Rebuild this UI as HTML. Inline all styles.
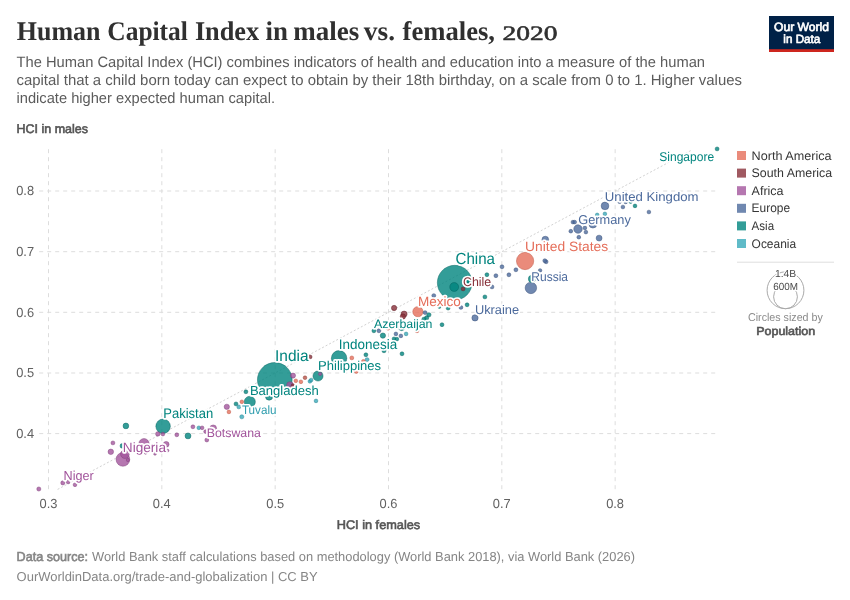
<!DOCTYPE html>
<html><head><meta charset="utf-8"><title>Human Capital Index in males vs. females, 2020</title>
<style>
html,body{margin:0;padding:0;background:#fff;}
body{width:850px;height:600px;overflow:hidden;font-family:"Liberation Sans",sans-serif;}
svg{display:block;will-change:transform;text-rendering:geometricPrecision;font-family:"Liberation Sans",sans-serif;}
.serif{font-family:"Liberation Serif",serif;}
.grid{stroke:#dddddd;stroke-width:1;stroke-dasharray:4 4;fill:none;}
.tick{font-size:13.2px;fill:#616161;}
.lbl{paint-order:stroke;stroke:#ffffff;stroke-width:3.4px;stroke-linejoin:round;}
</style></head><body>
<svg width="850" height="600" viewBox="0 0 850 600">
<rect x="0" y="0" width="850" height="600" fill="#ffffff"/>

<text class="serif" x="16.8" y="40.1" font-size="27" font-weight="bold" fill="#303030" textLength="83.6" lengthAdjust="spacingAndGlyphs">Human</text>
<text class="serif" x="107.3" y="40.1" font-size="27" font-weight="bold" fill="#303030" textLength="80.6" lengthAdjust="spacingAndGlyphs">Capital</text>
<text class="serif" x="194.9" y="40.1" font-size="27" font-weight="bold" fill="#303030" textLength="64.3" lengthAdjust="spacingAndGlyphs">Index</text>
<text class="serif" x="265.5" y="40.1" font-size="27" font-weight="bold" fill="#303030" textLength="22.4" lengthAdjust="spacingAndGlyphs">in</text>
<text class="serif" x="293.2" y="40.1" font-size="27" font-weight="bold" fill="#303030" textLength="66.0" lengthAdjust="spacingAndGlyphs">males</text>
<text class="serif" x="363.8" y="40.1" font-size="27" font-weight="bold" fill="#303030" textLength="31.2" lengthAdjust="spacingAndGlyphs">vs.</text>
<text class="serif" x="402.6" y="40.1" font-size="27" font-weight="bold" fill="#303030" textLength="92.4" lengthAdjust="spacingAndGlyphs">females,</text>
<text class="serif" x="502.6" y="40.2" font-size="20.5" fill="#303030" stroke="#303030" stroke-width="0.55" textLength="55.0" lengthAdjust="spacingAndGlyphs">2020</text>
<text x="16.5" y="66.5" font-size="15" fill="#5b5b5b" textLength="688.5" lengthAdjust="spacingAndGlyphs">The Human Capital Index (HCI) combines indicators of health and education into a measure of the human</text>
<text x="16.5" y="84.5" font-size="15" fill="#5b5b5b" textLength="725.5" lengthAdjust="spacingAndGlyphs">capital that a child born today can expect to obtain by their 18th birthday, on a scale from 0 to 1. Higher values</text>
<text x="16.5" y="102.5" font-size="15" fill="#5b5b5b" textLength="258.5" lengthAdjust="spacingAndGlyphs">indicate higher expected human capital.</text>
<rect x="769" y="16" width="65" height="36" fill="#002147"/><rect x="769" y="49.2" width="65" height="2.8" fill="#ce261e"/>
<text x="801.5" y="30.7" font-size="12" fill="#ffffff" stroke="#ffffff" stroke-width="0.65" text-anchor="middle" textLength="55" lengthAdjust="spacingAndGlyphs">Our World</text>
<text x="801.8" y="42.7" font-size="12" fill="#ffffff" stroke="#ffffff" stroke-width="0.65" text-anchor="middle" textLength="37" lengthAdjust="spacingAndGlyphs">in Data</text>
<text x="16.5" y="132.8" font-size="12.5" fill="#555555" stroke="#555555" stroke-width="0.6" textLength="71.5" lengthAdjust="spacingAndGlyphs">HCI in males</text>
<text x="336.7" y="528.5" font-size="12.5" fill="#555555" stroke="#555555" stroke-width="0.6" textLength="83.5" lengthAdjust="spacingAndGlyphs">HCI in females</text>
<line class="grid" x1="48.50" y1="149.2" x2="48.50" y2="489.5"/>
<text class="tick" x="48.5" y="507.5" text-anchor="middle" textLength="17.9" lengthAdjust="spacingAndGlyphs">0.3</text>
<line class="grid" x1="161.83" y1="149.2" x2="161.83" y2="489.5"/>
<text class="tick" x="161.8" y="507.5" text-anchor="middle" textLength="17.9" lengthAdjust="spacingAndGlyphs">0.4</text>
<line class="grid" x1="275.16" y1="149.2" x2="275.16" y2="489.5"/>
<text class="tick" x="275.2" y="507.5" text-anchor="middle" textLength="17.9" lengthAdjust="spacingAndGlyphs">0.5</text>
<line class="grid" x1="388.49" y1="149.2" x2="388.49" y2="489.5"/>
<text class="tick" x="388.5" y="507.5" text-anchor="middle" textLength="17.9" lengthAdjust="spacingAndGlyphs">0.6</text>
<line class="grid" x1="501.82" y1="149.2" x2="501.82" y2="489.5"/>
<text class="tick" x="501.8" y="507.5" text-anchor="middle" textLength="17.9" lengthAdjust="spacingAndGlyphs">0.7</text>
<line class="grid" x1="615.15" y1="149.2" x2="615.15" y2="489.5"/>
<text class="tick" x="615.1" y="507.5" text-anchor="middle" textLength="17.9" lengthAdjust="spacingAndGlyphs">0.8</text>
<line class="grid" x1="39.2" y1="433.6" x2="717" y2="433.6"/>
<text class="tick" x="16.2" y="437.8" textLength="17.9" lengthAdjust="spacingAndGlyphs">0.4</text>
<line class="grid" x1="39.2" y1="373.0" x2="717" y2="373.0"/>
<text class="tick" x="16.2" y="377.2" textLength="17.9" lengthAdjust="spacingAndGlyphs">0.5</text>
<line class="grid" x1="39.2" y1="312.3" x2="717" y2="312.3"/>
<text class="tick" x="16.2" y="316.5" textLength="17.9" lengthAdjust="spacingAndGlyphs">0.6</text>
<line class="grid" x1="39.2" y1="251.7" x2="717" y2="251.7"/>
<text class="tick" x="16.2" y="255.9" textLength="17.9" lengthAdjust="spacingAndGlyphs">0.7</text>
<line class="grid" x1="39.2" y1="191.0" x2="717" y2="191.0"/>
<text class="tick" x="16.2" y="195.2" textLength="17.9" lengthAdjust="spacingAndGlyphs">0.8</text>
<line x1="57.6" y1="489.4" x2="692.2" y2="149.8" stroke="#d2d2d2" stroke-width="1" stroke-dasharray="2 2"/>
<circle cx="274.8" cy="379.9" r="17.35" fill="#00847E" fill-opacity="0.8" stroke="#00605c" stroke-opacity="0.75" stroke-width="0.6"/>
<circle cx="454.7" cy="282.7" r="17.35" fill="#00847E" fill-opacity="0.8" stroke="#00605c" stroke-opacity="0.75" stroke-width="0.6"/>
<circle cx="525.1" cy="261.0" r="8.65" fill="#E56E5A" fill-opacity="0.8" stroke="#b9503f" stroke-opacity="0.75" stroke-width="0.6"/>
<circle cx="339.1" cy="358.3" r="7.75" fill="#00847E" fill-opacity="0.8" stroke="#00605c" stroke-opacity="0.75" stroke-width="0.6"/>
<circle cx="163.1" cy="426.3" r="7.25" fill="#00847E" fill-opacity="0.8" stroke="#00605c" stroke-opacity="0.75" stroke-width="0.6"/>
<circle cx="122.9" cy="459.4" r="6.85" fill="#A2559C" fill-opacity="0.8" stroke="#7d3f78" stroke-opacity="0.75" stroke-width="0.6"/>
<circle cx="530.9" cy="287.9" r="5.75" fill="#4C6A9C" fill-opacity="0.8" stroke="#364d75" stroke-opacity="0.75" stroke-width="0.6"/>
<circle cx="249.8" cy="401.8" r="5.55" fill="#00847E" fill-opacity="0.8" stroke="#00605c" stroke-opacity="0.75" stroke-width="0.6"/>
<circle cx="417.9" cy="311.7" r="5.15" fill="#E56E5A" fill-opacity="0.8" stroke="#b9503f" stroke-opacity="0.75" stroke-width="0.6"/>
<circle cx="144.0" cy="443.7" r="5.15" fill="#A2559C" fill-opacity="0.8" stroke="#7d3f78" stroke-opacity="0.75" stroke-width="0.6"/>
<circle cx="318.0" cy="376.0" r="5.05" fill="#00847E" fill-opacity="0.8" stroke="#00605c" stroke-opacity="0.75" stroke-width="0.6"/>
<circle cx="454.2" cy="287.0" r="4.45" fill="#00847E" fill-opacity="0.8" stroke="#00605c" stroke-opacity="0.75" stroke-width="0.6"/>
<circle cx="124.9" cy="454.1" r="4.35" fill="#A2559C" fill-opacity="0.8" stroke="#7d3f78" stroke-opacity="0.75" stroke-width="0.6"/>
<circle cx="578.0" cy="229.0" r="4.25" fill="#4C6A9C" fill-opacity="0.8" stroke="#364d75" stroke-opacity="0.75" stroke-width="0.6"/>
<circle cx="592.9" cy="224.1" r="3.95" fill="#4C6A9C" fill-opacity="0.8" stroke="#364d75" stroke-opacity="0.75" stroke-width="0.6"/>
<circle cx="605.0" cy="205.9" r="3.85" fill="#4C6A9C" fill-opacity="0.8" stroke="#364d75" stroke-opacity="0.75" stroke-width="0.6"/>
<circle cx="269.1" cy="396.5" r="3.65" fill="#00847E" fill-opacity="0.8" stroke="#00605c" stroke-opacity="0.75" stroke-width="0.6"/>
<circle cx="290.0" cy="385.0" r="3.35" fill="#A2559C" fill-opacity="0.8" stroke="#7d3f78" stroke-opacity="0.75" stroke-width="0.6"/>
<circle cx="531.9" cy="278.9" r="3.55" fill="#00847E" fill-opacity="0.8" stroke="#00605c" stroke-opacity="0.75" stroke-width="0.6"/>
<circle cx="545.3" cy="239.6" r="3.35" fill="#4C6A9C" fill-opacity="0.8" stroke="#364d75" stroke-opacity="0.75" stroke-width="0.6"/>
<circle cx="404.1" cy="314.1" r="3.05" fill="#883039" fill-opacity="0.8" stroke="#5e1e26" stroke-opacity="0.75" stroke-width="0.6"/>
<circle cx="402.9" cy="316.5" r="2.65" fill="#883039" fill-opacity="0.8" stroke="#5e1e26" stroke-opacity="0.75" stroke-width="0.6"/>
<circle cx="475.0" cy="317.9" r="3.15" fill="#4C6A9C" fill-opacity="0.8" stroke="#364d75" stroke-opacity="0.75" stroke-width="0.6"/>
<circle cx="213.2" cy="428.3" r="3.35" fill="#A2559C" fill-opacity="0.8" stroke="#7d3f78" stroke-opacity="0.75" stroke-width="0.6"/>
<circle cx="599.1" cy="238.1" r="2.95" fill="#4C6A9C" fill-opacity="0.8" stroke="#364d75" stroke-opacity="0.75" stroke-width="0.6"/>
<circle cx="188.0" cy="435.9" r="2.95" fill="#00847E" fill-opacity="0.8" stroke="#00605c" stroke-opacity="0.75" stroke-width="0.6"/>
<circle cx="166.2" cy="444.3" r="2.85" fill="#A2559C" fill-opacity="0.8" stroke="#7d3f78" stroke-opacity="0.75" stroke-width="0.6"/>
<circle cx="401.6" cy="327.6" r="3.05" fill="#00847E" fill-opacity="0.8" stroke="#00605c" stroke-opacity="0.75" stroke-width="0.6"/>
<circle cx="38.8" cy="489.0" r="2.05" fill="#A2559C" fill-opacity="0.8" stroke="#7d3f78" stroke-opacity="0.75" stroke-width="0.6"/>
<circle cx="62.8" cy="482.9" r="2.05" fill="#A2559C" fill-opacity="0.8" stroke="#7d3f78" stroke-opacity="0.75" stroke-width="0.6"/>
<circle cx="68.1" cy="482.0" r="1.85" fill="#A2559C" fill-opacity="0.8" stroke="#7d3f78" stroke-opacity="0.75" stroke-width="0.6"/>
<circle cx="75.0" cy="484.8" r="1.85" fill="#A2559C" fill-opacity="0.8" stroke="#7d3f78" stroke-opacity="0.75" stroke-width="0.6"/>
<circle cx="125.9" cy="425.9" r="2.85" fill="#00847E" fill-opacity="0.8" stroke="#00605c" stroke-opacity="0.75" stroke-width="0.6"/>
<circle cx="112.9" cy="442.9" r="1.95" fill="#A2559C" fill-opacity="0.8" stroke="#7d3f78" stroke-opacity="0.75" stroke-width="0.6"/>
<circle cx="110.8" cy="451.8" r="2.75" fill="#A2559C" fill-opacity="0.8" stroke="#7d3f78" stroke-opacity="0.75" stroke-width="0.6"/>
<circle cx="122.4" cy="445.9" r="2.35" fill="#00847E" fill-opacity="0.8" stroke="#00605c" stroke-opacity="0.75" stroke-width="0.6"/>
<circle cx="127.9" cy="460.0" r="1.65" fill="#A2559C" fill-opacity="0.8" stroke="#7d3f78" stroke-opacity="0.75" stroke-width="0.6"/>
<circle cx="140.0" cy="452.9" r="1.25" fill="#A2559C" fill-opacity="0.8" stroke="#7d3f78" stroke-opacity="0.75" stroke-width="0.6"/>
<circle cx="145.6" cy="453.0" r="1.25" fill="#A2559C" fill-opacity="0.8" stroke="#7d3f78" stroke-opacity="0.75" stroke-width="0.6"/>
<circle cx="155.0" cy="453.8" r="1.45" fill="#A2559C" fill-opacity="0.8" stroke="#7d3f78" stroke-opacity="0.75" stroke-width="0.6"/>
<circle cx="167.6" cy="450.6" r="1.35" fill="#A2559C" fill-opacity="0.8" stroke="#7d3f78" stroke-opacity="0.75" stroke-width="0.6"/>
<circle cx="157.8" cy="433.9" r="2.25" fill="#A2559C" fill-opacity="0.8" stroke="#7d3f78" stroke-opacity="0.75" stroke-width="0.6"/>
<circle cx="162.9" cy="434.1" r="1.85" fill="#A2559C" fill-opacity="0.8" stroke="#7d3f78" stroke-opacity="0.75" stroke-width="0.6"/>
<circle cx="176.8" cy="434.8" r="1.95" fill="#A2559C" fill-opacity="0.8" stroke="#7d3f78" stroke-opacity="0.75" stroke-width="0.6"/>
<circle cx="192.9" cy="426.8" r="1.95" fill="#A2559C" fill-opacity="0.8" stroke="#7d3f78" stroke-opacity="0.75" stroke-width="0.6"/>
<circle cx="198.8" cy="427.8" r="1.85" fill="#38AABA" fill-opacity="0.8" stroke="#27808c" stroke-opacity="0.75" stroke-width="0.6"/>
<circle cx="202.1" cy="427.8" r="1.85" fill="#A2559C" fill-opacity="0.8" stroke="#7d3f78" stroke-opacity="0.75" stroke-width="0.6"/>
<circle cx="205.6" cy="431.6" r="1.85" fill="#A2559C" fill-opacity="0.8" stroke="#7d3f78" stroke-opacity="0.75" stroke-width="0.6"/>
<circle cx="206.8" cy="440.0" r="1.95" fill="#A2559C" fill-opacity="0.8" stroke="#7d3f78" stroke-opacity="0.75" stroke-width="0.6"/>
<circle cx="226.8" cy="406.8" r="2.65" fill="#A2559C" fill-opacity="0.8" stroke="#7d3f78" stroke-opacity="0.75" stroke-width="0.6"/>
<circle cx="228.9" cy="411.9" r="1.85" fill="#E56E5A" fill-opacity="0.8" stroke="#b9503f" stroke-opacity="0.75" stroke-width="0.6"/>
<circle cx="236.0" cy="403.9" r="1.95" fill="#00847E" fill-opacity="0.8" stroke="#00605c" stroke-opacity="0.75" stroke-width="0.6"/>
<circle cx="238.8" cy="406.9" r="1.95" fill="#38AABA" fill-opacity="0.8" stroke="#27808c" stroke-opacity="0.75" stroke-width="0.6"/>
<circle cx="241.8" cy="401.8" r="1.85" fill="#E56E5A" fill-opacity="0.8" stroke="#b9503f" stroke-opacity="0.75" stroke-width="0.6"/>
<circle cx="241.8" cy="416.8" r="2.05" fill="#38AABA" fill-opacity="0.8" stroke="#27808c" stroke-opacity="0.75" stroke-width="0.6"/>
<circle cx="245.9" cy="391.8" r="1.95" fill="#00847E" fill-opacity="0.8" stroke="#00605c" stroke-opacity="0.75" stroke-width="0.6"/>
<circle cx="293.0" cy="375.6" r="2.55" fill="#A2559C" fill-opacity="0.8" stroke="#7d3f78" stroke-opacity="0.75" stroke-width="0.6"/>
<circle cx="292.9" cy="385.3" r="1.65" fill="#883039" fill-opacity="0.8" stroke="#5e1e26" stroke-opacity="0.75" stroke-width="0.6"/>
<circle cx="295.8" cy="380.8" r="1.85" fill="#E56E5A" fill-opacity="0.8" stroke="#b9503f" stroke-opacity="0.75" stroke-width="0.6"/>
<circle cx="300.9" cy="381.8" r="1.85" fill="#E56E5A" fill-opacity="0.8" stroke="#b9503f" stroke-opacity="0.75" stroke-width="0.6"/>
<circle cx="305.0" cy="377.7" r="1.85" fill="#B85448" fill-opacity="0.8" stroke="#8a3a30" stroke-opacity="0.75" stroke-width="0.6"/>
<circle cx="309.9" cy="381.3" r="1.85" fill="#38AABA" fill-opacity="0.8" stroke="#27808c" stroke-opacity="0.75" stroke-width="0.6"/>
<circle cx="311.2" cy="380.0" r="1.85" fill="#38AABA" fill-opacity="0.8" stroke="#27808c" stroke-opacity="0.75" stroke-width="0.6"/>
<circle cx="320.1" cy="373.9" r="1.65" fill="#A2559C" fill-opacity="0.8" stroke="#7d3f78" stroke-opacity="0.75" stroke-width="0.6"/>
<circle cx="310.2" cy="356.9" r="1.85" fill="#883039" fill-opacity="0.8" stroke="#5e1e26" stroke-opacity="0.75" stroke-width="0.6"/>
<circle cx="316.0" cy="400.9" r="1.85" fill="#38AABA" fill-opacity="0.8" stroke="#27808c" stroke-opacity="0.75" stroke-width="0.6"/>
<circle cx="351.8" cy="357.9" r="1.95" fill="#E56E5A" fill-opacity="0.8" stroke="#b9503f" stroke-opacity="0.75" stroke-width="0.6"/>
<circle cx="365.9" cy="354.8" r="1.95" fill="#00847E" fill-opacity="0.8" stroke="#00605c" stroke-opacity="0.75" stroke-width="0.6"/>
<circle cx="367.1" cy="359.6" r="1.95" fill="#38AABA" fill-opacity="0.8" stroke="#27808c" stroke-opacity="0.75" stroke-width="0.6"/>
<circle cx="363.4" cy="361.4" r="1.95" fill="#E56E5A" fill-opacity="0.8" stroke="#b9503f" stroke-opacity="0.75" stroke-width="0.6"/>
<circle cx="356.3" cy="371.6" r="1.85" fill="#E56E5A" fill-opacity="0.8" stroke="#b9503f" stroke-opacity="0.75" stroke-width="0.6"/>
<circle cx="384.0" cy="350.7" r="2.05" fill="#00847E" fill-opacity="0.8" stroke="#00605c" stroke-opacity="0.75" stroke-width="0.6"/>
<circle cx="402.0" cy="353.8" r="1.95" fill="#00847E" fill-opacity="0.8" stroke="#00605c" stroke-opacity="0.75" stroke-width="0.6"/>
<circle cx="373.9" cy="330.8" r="1.95" fill="#00847E" fill-opacity="0.8" stroke="#00605c" stroke-opacity="0.75" stroke-width="0.6"/>
<circle cx="378.9" cy="330.8" r="1.95" fill="#4C6A9C" fill-opacity="0.8" stroke="#364d75" stroke-opacity="0.75" stroke-width="0.6"/>
<circle cx="382.9" cy="335.6" r="2.65" fill="#00847E" fill-opacity="0.8" stroke="#00605c" stroke-opacity="0.75" stroke-width="0.6"/>
<circle cx="388.1" cy="328.3" r="1.85" fill="#E56E5A" fill-opacity="0.8" stroke="#b9503f" stroke-opacity="0.75" stroke-width="0.6"/>
<circle cx="395.9" cy="333.9" r="1.85" fill="#4C6A9C" fill-opacity="0.8" stroke="#364d75" stroke-opacity="0.75" stroke-width="0.6"/>
<circle cx="400.9" cy="335.9" r="1.85" fill="#4C6A9C" fill-opacity="0.8" stroke="#364d75" stroke-opacity="0.75" stroke-width="0.6"/>
<circle cx="406.1" cy="333.9" r="1.85" fill="#38AABA" fill-opacity="0.8" stroke="#27808c" stroke-opacity="0.75" stroke-width="0.6"/>
<circle cx="394.0" cy="338.8" r="1.85" fill="#00847E" fill-opacity="0.8" stroke="#00605c" stroke-opacity="0.75" stroke-width="0.6"/>
<circle cx="396.9" cy="339.1" r="1.85" fill="#00847E" fill-opacity="0.8" stroke="#00605c" stroke-opacity="0.75" stroke-width="0.6"/>
<circle cx="417.0" cy="330.9" r="1.85" fill="#E56E5A" fill-opacity="0.8" stroke="#b9503f" stroke-opacity="0.75" stroke-width="0.6"/>
<circle cx="394.1" cy="308.0" r="2.65" fill="#883039" fill-opacity="0.8" stroke="#5e1e26" stroke-opacity="0.75" stroke-width="0.6"/>
<circle cx="425.1" cy="312.6" r="1.95" fill="#4C6A9C" fill-opacity="0.8" stroke="#364d75" stroke-opacity="0.75" stroke-width="0.6"/>
<circle cx="428.9" cy="314.8" r="2.15" fill="#00847E" fill-opacity="0.8" stroke="#00605c" stroke-opacity="0.75" stroke-width="0.6"/>
<circle cx="426.6" cy="317.9" r="2.15" fill="#00847E" fill-opacity="0.8" stroke="#00605c" stroke-opacity="0.75" stroke-width="0.6"/>
<circle cx="424.0" cy="319.3" r="2.15" fill="#00847E" fill-opacity="0.8" stroke="#00605c" stroke-opacity="0.75" stroke-width="0.6"/>
<circle cx="442.0" cy="324.7" r="1.95" fill="#00847E" fill-opacity="0.8" stroke="#00605c" stroke-opacity="0.75" stroke-width="0.6"/>
<circle cx="433.8" cy="295.6" r="1.95" fill="#4C6A9C" fill-opacity="0.8" stroke="#364d75" stroke-opacity="0.75" stroke-width="0.6"/>
<circle cx="448.1" cy="308.1" r="1.95" fill="#00847E" fill-opacity="0.8" stroke="#00605c" stroke-opacity="0.75" stroke-width="0.6"/>
<circle cx="424.1" cy="305.0" r="1.65" fill="#00847E" fill-opacity="0.8" stroke="#00605c" stroke-opacity="0.75" stroke-width="0.6"/>
<circle cx="439.4" cy="306.8" r="1.65" fill="#00847E" fill-opacity="0.8" stroke="#00605c" stroke-opacity="0.75" stroke-width="0.6"/>
<circle cx="460.9" cy="307.4" r="1.95" fill="#4C6A9C" fill-opacity="0.8" stroke="#364d75" stroke-opacity="0.75" stroke-width="0.6"/>
<circle cx="467.1" cy="304.8" r="1.95" fill="#00847E" fill-opacity="0.8" stroke="#00605c" stroke-opacity="0.75" stroke-width="0.6"/>
<circle cx="463.1" cy="288.9" r="1.95" fill="#883039" fill-opacity="0.8" stroke="#5e1e26" stroke-opacity="0.75" stroke-width="0.6"/>
<circle cx="468.2" cy="281.2" r="2.05" fill="#00847E" fill-opacity="0.8" stroke="#00605c" stroke-opacity="0.75" stroke-width="0.6"/>
<circle cx="486.9" cy="274.7" r="1.95" fill="#00847E" fill-opacity="0.8" stroke="#00605c" stroke-opacity="0.75" stroke-width="0.6"/>
<circle cx="495.9" cy="275.7" r="1.95" fill="#4C6A9C" fill-opacity="0.8" stroke="#364d75" stroke-opacity="0.75" stroke-width="0.6"/>
<circle cx="502.0" cy="266.8" r="1.95" fill="#4C6A9C" fill-opacity="0.8" stroke="#364d75" stroke-opacity="0.75" stroke-width="0.6"/>
<circle cx="508.9" cy="274.8" r="1.95" fill="#4C6A9C" fill-opacity="0.8" stroke="#364d75" stroke-opacity="0.75" stroke-width="0.6"/>
<circle cx="515.9" cy="269.8" r="1.95" fill="#4C6A9C" fill-opacity="0.8" stroke="#364d75" stroke-opacity="0.75" stroke-width="0.6"/>
<circle cx="492.0" cy="286.9" r="1.95" fill="#4C6A9C" fill-opacity="0.8" stroke="#364d75" stroke-opacity="0.75" stroke-width="0.6"/>
<circle cx="484.9" cy="296.9" r="1.95" fill="#00847E" fill-opacity="0.8" stroke="#00605c" stroke-opacity="0.75" stroke-width="0.6"/>
<circle cx="546.1" cy="261.8" r="1.95" fill="#4C6A9C" fill-opacity="0.8" stroke="#364d75" stroke-opacity="0.75" stroke-width="0.6"/>
<circle cx="544.8" cy="260.7" r="1.95" fill="#4C6A9C" fill-opacity="0.8" stroke="#364d75" stroke-opacity="0.75" stroke-width="0.6"/>
<circle cx="540.1" cy="270.4" r="1.75" fill="#4C6A9C" fill-opacity="0.8" stroke="#364d75" stroke-opacity="0.75" stroke-width="0.6"/>
<circle cx="572.9" cy="222.1" r="1.85" fill="#4C6A9C" fill-opacity="0.8" stroke="#364d75" stroke-opacity="0.75" stroke-width="0.6"/>
<circle cx="574.7" cy="222.1" r="1.85" fill="#4C6A9C" fill-opacity="0.8" stroke="#364d75" stroke-opacity="0.75" stroke-width="0.6"/>
<circle cx="570.8" cy="231.2" r="1.85" fill="#4C6A9C" fill-opacity="0.8" stroke="#364d75" stroke-opacity="0.75" stroke-width="0.6"/>
<circle cx="584.9" cy="227.9" r="1.85" fill="#4C6A9C" fill-opacity="0.8" stroke="#364d75" stroke-opacity="0.75" stroke-width="0.6"/>
<circle cx="585.9" cy="232.1" r="1.85" fill="#4C6A9C" fill-opacity="0.8" stroke="#364d75" stroke-opacity="0.75" stroke-width="0.6"/>
<circle cx="578.8" cy="237.2" r="1.85" fill="#4C6A9C" fill-opacity="0.8" stroke="#364d75" stroke-opacity="0.75" stroke-width="0.6"/>
<circle cx="597.2" cy="214.9" r="1.85" fill="#38AABA" fill-opacity="0.8" stroke="#27808c" stroke-opacity="0.75" stroke-width="0.6"/>
<circle cx="604.9" cy="213.9" r="1.85" fill="#38AABA" fill-opacity="0.8" stroke="#27808c" stroke-opacity="0.75" stroke-width="0.6"/>
<circle cx="622.9" cy="207.0" r="1.85" fill="#4C6A9C" fill-opacity="0.8" stroke="#364d75" stroke-opacity="0.75" stroke-width="0.6"/>
<circle cx="635.0" cy="205.9" r="1.85" fill="#00847E" fill-opacity="0.8" stroke="#00605c" stroke-opacity="0.75" stroke-width="0.6"/>
<circle cx="648.9" cy="212.0" r="1.85" fill="#4C6A9C" fill-opacity="0.8" stroke="#364d75" stroke-opacity="0.75" stroke-width="0.6"/>
<circle cx="619.6" cy="201.7" r="1.85" fill="#4C6A9C" fill-opacity="0.8" stroke="#364d75" stroke-opacity="0.75" stroke-width="0.6"/>
<circle cx="625.7" cy="201.9" r="1.85" fill="#4C6A9C" fill-opacity="0.8" stroke="#364d75" stroke-opacity="0.75" stroke-width="0.6"/>
<circle cx="630.6" cy="201.6" r="1.85" fill="#00847E" fill-opacity="0.8" stroke="#00605c" stroke-opacity="0.75" stroke-width="0.6"/>
<circle cx="717.1" cy="148.9" r="1.95" fill="#00847E" fill-opacity="0.8" stroke="#00605c" stroke-opacity="0.75" stroke-width="0.6"/>
<text class="lbl" x="63.6" y="479.7" font-size="13.0" fill="#A2559C" textLength="30.2" lengthAdjust="spacingAndGlyphs">Niger</text>
<text class="lbl" x="122.8" y="451.7" font-size="13.6" fill="#A2559C" textLength="43.2" lengthAdjust="spacingAndGlyphs">Nigeria</text>
<text class="lbl" x="163.2" y="418.1" font-size="13.8" fill="#00847E" textLength="50.0" lengthAdjust="spacingAndGlyphs">Pakistan</text>
<text class="lbl" x="206.7" y="436.8" font-size="12.3" fill="#A2559C" textLength="54.2" lengthAdjust="spacingAndGlyphs">Botswana</text>
<text class="lbl" x="241.9" y="413.8" font-size="12.2" fill="#2d9cad" textLength="34.6" lengthAdjust="spacingAndGlyphs">Tuvalu</text>
<text class="lbl" x="249.9" y="394.8" font-size="13.0" fill="#00847E" textLength="68.8" lengthAdjust="spacingAndGlyphs">Bangladesh</text>
<text class="lbl" x="275.0" y="361.1" font-size="15.7" fill="#00847E" textLength="33.5" lengthAdjust="spacingAndGlyphs">India</text>
<text class="lbl" x="338.8" y="348.7" font-size="13.8" fill="#00847E" textLength="58.4" lengthAdjust="spacingAndGlyphs">Indonesia</text>
<text class="lbl" x="318.1" y="369.7" font-size="12.9" fill="#00847E" textLength="63.0" lengthAdjust="spacingAndGlyphs">Philippines</text>
<text class="lbl" x="374.0" y="328.1" font-size="12.2" fill="#00847E" textLength="58.4" lengthAdjust="spacingAndGlyphs">Azerbaijan</text>
<text class="lbl" x="417.9" y="305.5" font-size="13.3" fill="#E56E5A" textLength="42.9" lengthAdjust="spacingAndGlyphs">Mexico</text>
<text class="lbl" x="455.6" y="264.3" font-size="16" fill="#00847E" textLength="39.4" lengthAdjust="spacingAndGlyphs">China</text>
<text class="lbl" x="463.0" y="285.8" font-size="12.4" fill="#883039" textLength="28.2" lengthAdjust="spacingAndGlyphs">Chile</text>
<text class="lbl" x="474.9" y="313.8" font-size="12.6" fill="#4C6A9C" textLength="44.2" lengthAdjust="spacingAndGlyphs">Ukraine</text>
<text class="lbl" x="531.3" y="280.9" font-size="12.8" fill="#4C6A9C" textLength="36.7" lengthAdjust="spacingAndGlyphs">Russia</text>
<text class="lbl" x="525.1" y="250.8" font-size="13.5" fill="#E56E5A" textLength="83.1" lengthAdjust="spacingAndGlyphs">United States</text>
<text class="lbl" x="578.3" y="223.9" font-size="12.8" fill="#4C6A9C" textLength="52.5" lengthAdjust="spacingAndGlyphs">Germany</text>
<text class="lbl" x="604.8" y="200.8" font-size="12.6" fill="#4C6A9C" textLength="93.8" lengthAdjust="spacingAndGlyphs">United Kingdom</text>
<text class="lbl" x="659.3" y="161.4" font-size="12.7" fill="#00847E" textLength="54.8" lengthAdjust="spacingAndGlyphs">Singapore</text>
<rect x="737" y="151.0" width="9" height="9" fill="#E56E5A" fill-opacity="0.8"/>
<text x="751.6" y="159.6" font-size="12.4" fill="#363636" textLength="80" lengthAdjust="spacingAndGlyphs">North America</text>
<rect x="737" y="168.6" width="9" height="9" fill="#883039" fill-opacity="0.8"/>
<text x="751.6" y="177.2" font-size="12.4" fill="#363636" textLength="80.5" lengthAdjust="spacingAndGlyphs">South America</text>
<rect x="737" y="186.2" width="9" height="9" fill="#A2559C" fill-opacity="0.8"/>
<text x="751.6" y="194.8" font-size="12.4" fill="#363636" textLength="32" lengthAdjust="spacingAndGlyphs">Africa</text>
<rect x="737" y="203.8" width="9" height="9" fill="#4C6A9C" fill-opacity="0.8"/>
<text x="751.6" y="212.4" font-size="12.4" fill="#363636" textLength="38.5" lengthAdjust="spacingAndGlyphs">Europe</text>
<rect x="737" y="221.4" width="9" height="9" fill="#00847E" fill-opacity="0.8"/>
<text x="751.6" y="230.0" font-size="12.4" fill="#363636" textLength="22.5" lengthAdjust="spacingAndGlyphs">Asia</text>
<rect x="737" y="239.0" width="9" height="9" fill="#38AABA" fill-opacity="0.8"/>
<text x="751.6" y="247.6" font-size="12.4" fill="#363636" textLength="44.5" lengthAdjust="spacingAndGlyphs">Oceania</text>
<line x1="737" y1="262.2" x2="834" y2="262.2" stroke="#dedede" stroke-width="1"/>
<circle cx="785.5" cy="290.3" r="18.4" fill="none" stroke="#aaaaaa" stroke-width="1"/>
<circle cx="785.5" cy="296.8" r="11.9" fill="none" stroke="#aaaaaa" stroke-width="1"/>
<text class="lbl" style="stroke-width:2.6px" x="785.6" y="277.4" font-size="10.3" fill="#4a4a4a" text-anchor="middle" textLength="21.3" lengthAdjust="spacingAndGlyphs">1.4B</text>
<text class="lbl" style="stroke-width:2.6px" x="785.6" y="289.9" font-size="10.3" fill="#4a4a4a" text-anchor="middle" textLength="24.7" lengthAdjust="spacingAndGlyphs">600M</text>
<text x="785.4" y="321.3" font-size="11.3" fill="#8a8a8a" text-anchor="middle" textLength="74.8" lengthAdjust="spacingAndGlyphs">Circles sized by</text>
<text x="785.7" y="335.3" font-size="11.6" fill="#555555" stroke="#555555" stroke-width="0.6" text-anchor="middle" textLength="59" lengthAdjust="spacingAndGlyphs">Population</text>
<text x="16.6" y="560.9" font-size="13" fill="#858585"><tspan stroke="#858585" stroke-width="0.6" textLength="71.5" lengthAdjust="spacingAndGlyphs">Data source:</tspan></text>
<text x="92" y="560.9" font-size="13" fill="#858585" textLength="543" lengthAdjust="spacingAndGlyphs">World Bank staff calculations based on methodology (World Bank 2018), via World Bank (2026)</text>
<text x="16.6" y="580.8" font-size="13" fill="#858585" textLength="301" lengthAdjust="spacingAndGlyphs">OurWorldinData.org/trade-and-globalization | CC BY</text>
</svg></body></html>
